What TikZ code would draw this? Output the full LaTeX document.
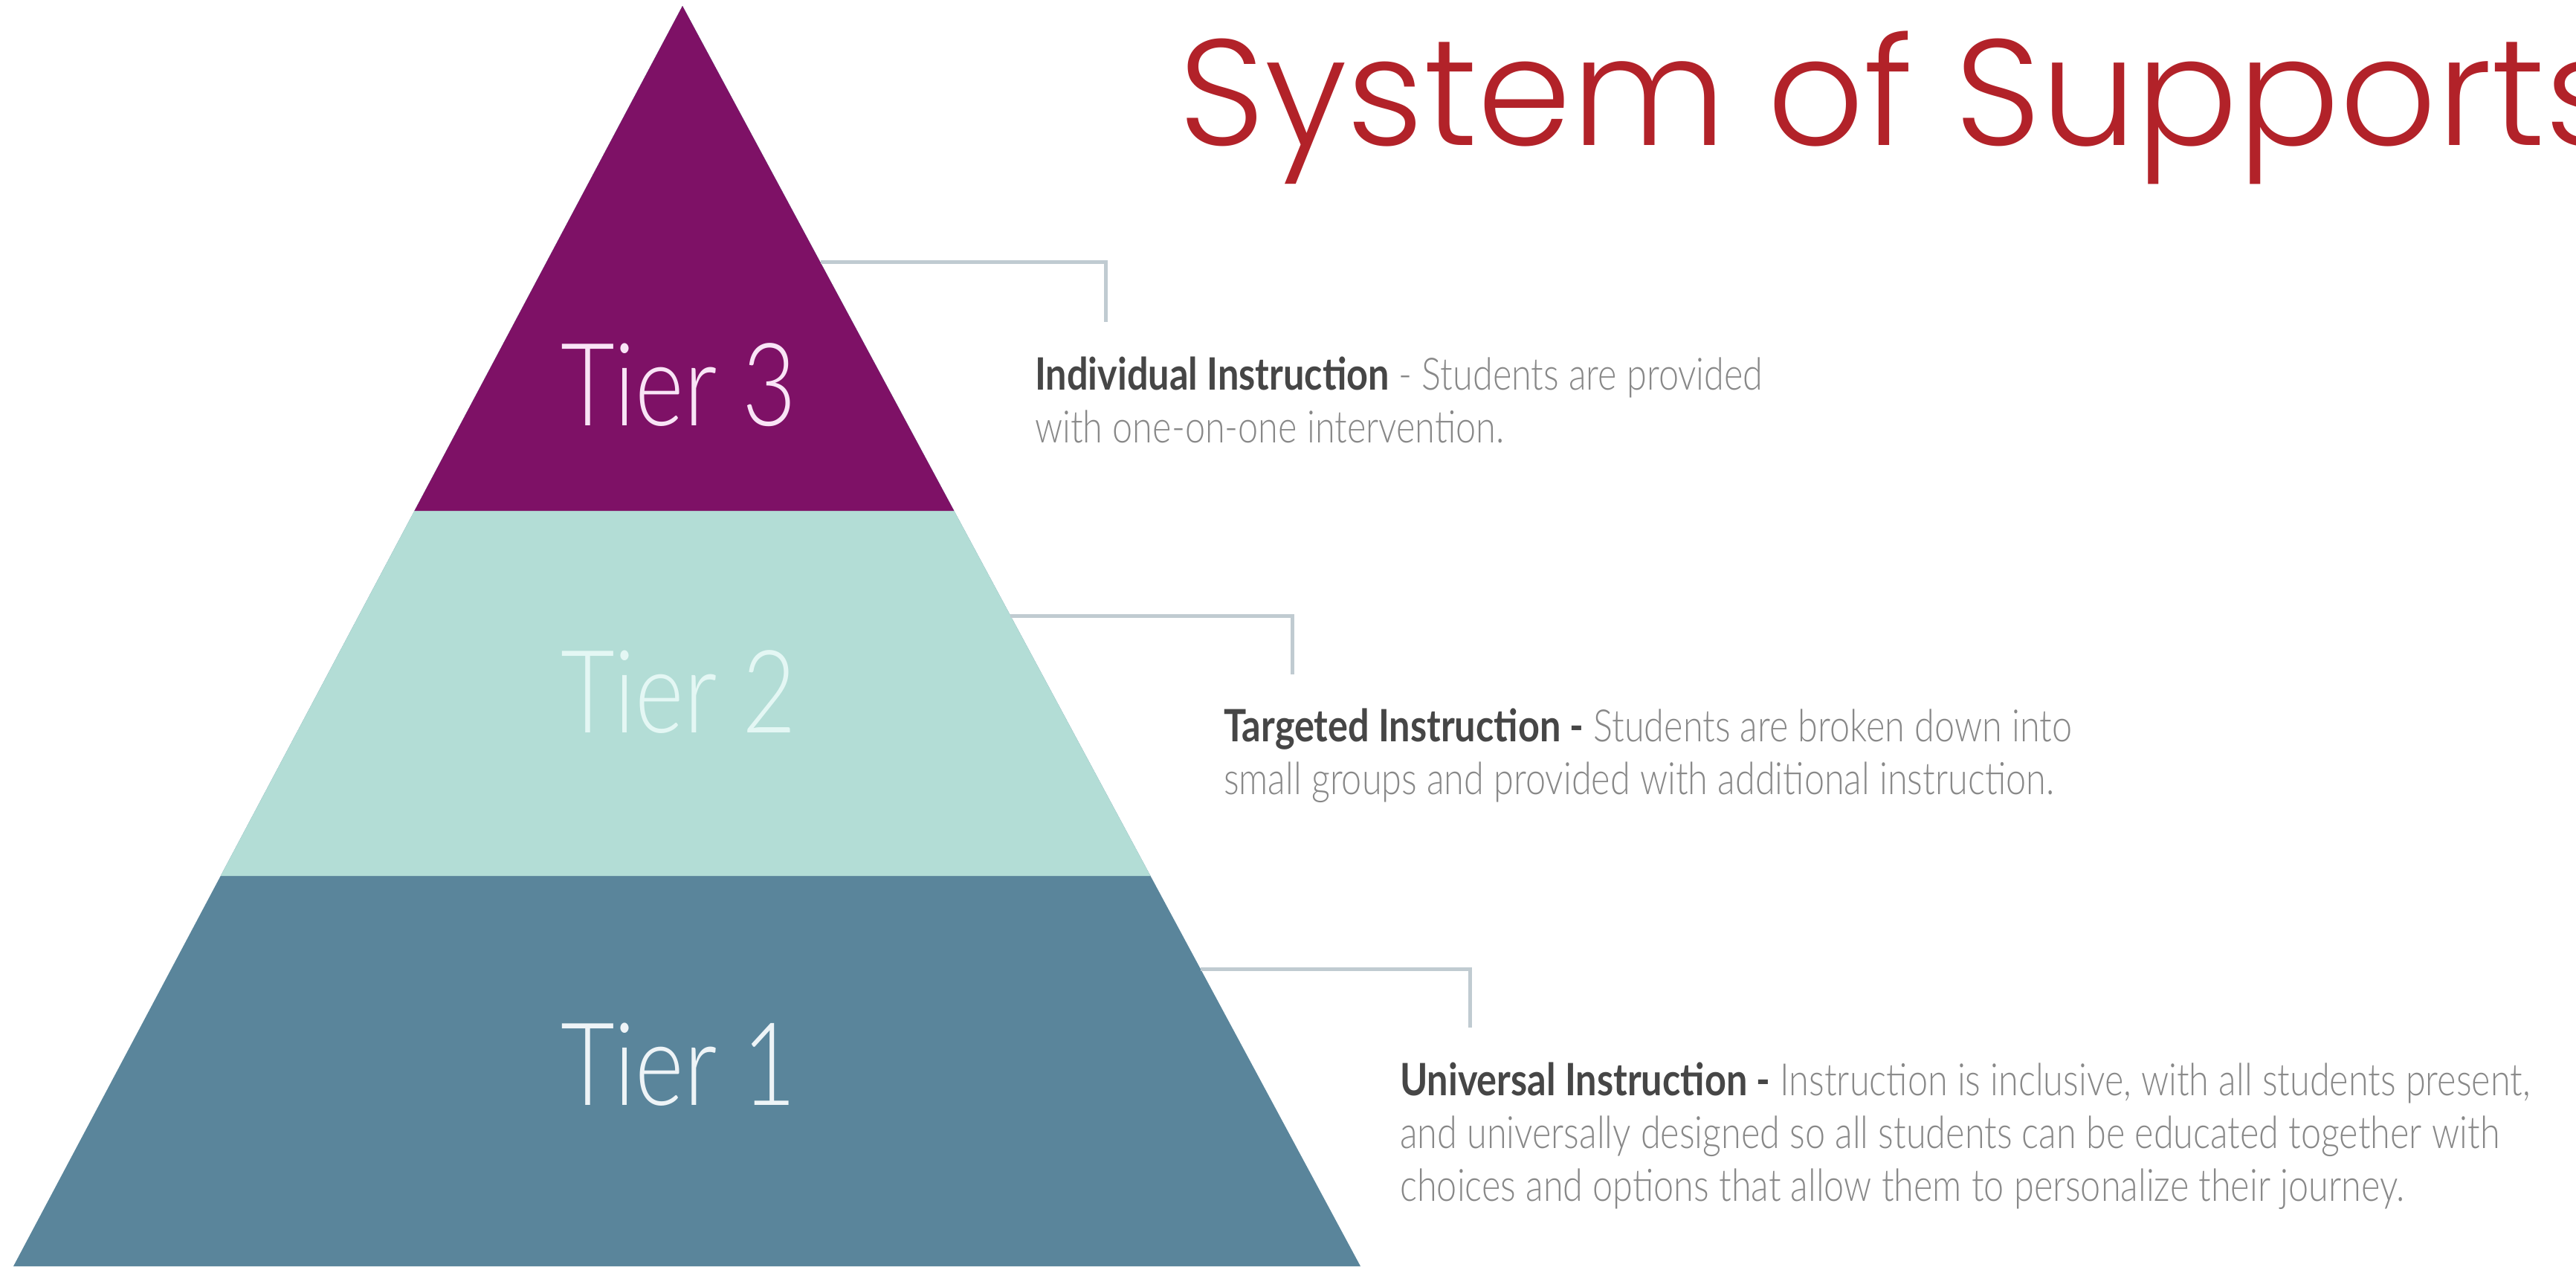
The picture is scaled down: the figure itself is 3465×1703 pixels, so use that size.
\documentclass[tikz,border=0pt]{standalone}
\usepackage{fontspec}
\usepackage{tikz}
\usetikzlibrary{calc, positioning}

\IfFontExistsTF{Lato Light}
  {\setmainfont{Lato}[UprightFont=* Light, BoldFont=* Bold,
     UprightFeatures={FakeStretch=0.81}, BoldFeatures={FakeStretch=0.84}]}
  {\setmainfont{Lato}[FakeStretch=0.82]}
\IfFontExistsTF{Poppins Light}
  {\newfontfamily\titlefont{Poppins Light}}
  {\newfontfamily\titlefont{Poppins}}

\definecolor{tierthree}{HTML}{7E1166}
\definecolor{tiertwo}{HTML}{B3DDD6}
\definecolor{tierone}{HTML}{5A859B}
\definecolor{tierthreetext}{HTML}{F9E4F6}
\definecolor{tiertwotext}{HTML}{E4F7F4}
\definecolor{tieronetext}{HTML}{EEF4F7}
\definecolor{titlered}{HTML}{B22229}
\definecolor{headgray}{HTML}{464646}
\definecolor{bodygray}{HTML}{888888}
\definecolor{leadgray}{HTML}{C0CBD1}

\begin{document}
\begin{tikzpicture}[
    x=1pt, y=-1pt,
    tier/.style={font=\fontsize{155}{160}\selectfont, inner sep=0pt, anchor=base},
    desc/.style={font=\fontsize{60}{71}\selectfont, text=bodygray, align=left, inner sep=0pt, anchor=base west},
    lead/.style={draw=leadgray, line width=5pt},
    ]
\useasboundingbox (0,0) rectangle (3465,1703);
\clip (0,0) rectangle (3465,1703);

% pyramid
\coordinate (apex) at (918,8);
\coordinate (baseL) at (18,1703);
\coordinate (baseR) at (1830,1703);

\fill[tierone] (apex) -- (baseR) -- (baseL) -- cycle;
\fill[tiertwo] (apex) -- ($(apex)!0.6903!(baseR)$) -- ($(apex)!0.6903!(baseL)$) -- cycle;
\fill[tierthree] (apex) -- ($(apex)!0.4006!(baseR)$) -- ($(apex)!0.4006!(baseL)$) -- cycle;

\node[tier, text=tierthreetext] (tier3) at (913,572) {Tier 3};
\node[tier, text=tiertwotext] (tier2) at (913,985) {Tier 2};
\node[tier, text=tieronetext] (tier1) at (913,1486) {Tier 1};

\node[font=\titlefont\fontsize{203}{240}\selectfont, text=titlered, inner sep=0pt, anchor=base west]
    (title) at (1585,195) {System of Supports};

% descriptions (anchored at the baseline of the last line)
\node[desc] (t3desc) at (1392,595)
    {{\bfseries\color{headgray}Individual Instruction} - Students are provided\\
    with one-on-one intervention.};

\node[desc] (t2desc) at (1646,1068)
    {{\bfseries\color{headgray}Targeted Instruction -} Students are broken down into\\
    small groups and provided with additional instruction.};

\node[desc] (t1desc) at (1883,1615)
    {{\bfseries\color{headgray}Universal Instruction -} Instruction is inclusive, with all students present,\\
    and universally designed so all students can be educated together with\\
    choices and options that allow them to personalize their journey.};

% leaders
\coordinate (t3edge) at ($(apex)!0.2035!(baseR)$);
\coordinate (t3end) at (1487,433);
\coordinate (t2edge) at ($(apex)!0.4838!(baseR)$);
\coordinate (t2end) at (1738,907);
\coordinate (t1edge) at ($(apex)!0.7640!(baseR)$);
\coordinate (t1end) at (1977,1382);

\draw[lead] (t3edge) -| (t3end);
\draw[lead] (t2edge) -| (t2end);
\draw[lead] (t1edge) -| (t1end);

\end{tikzpicture}
\end{document}
